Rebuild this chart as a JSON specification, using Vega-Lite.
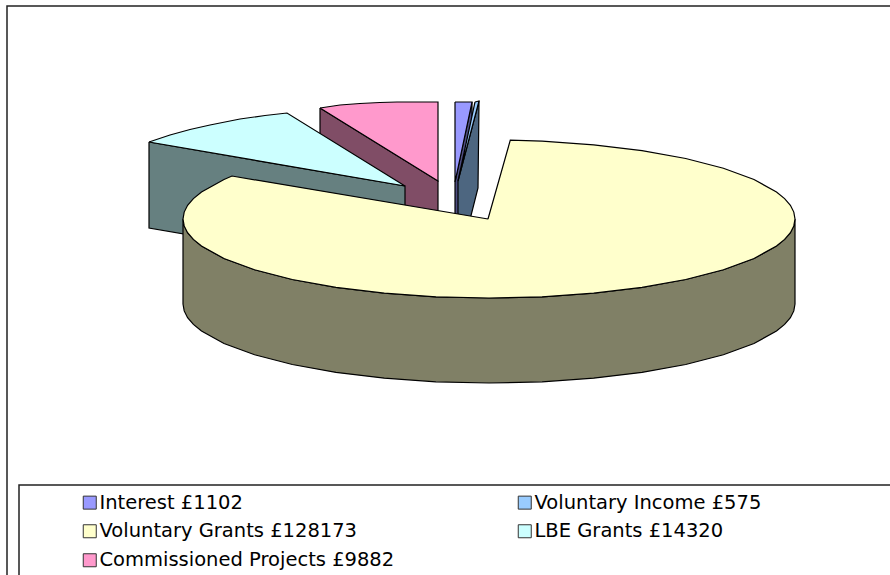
{"$schema":"https://vega.github.io/schema/vega-lite/v6.json","width":890,"height":575,"padding":0,"autosize":"none","background":"white","view":{"stroke":null},
"layer":[
{"data":{"values":[
{"part":"p1w","slice":"Commissioned Projects wall","x":320,"y":108},{"part":"p1w","slice":"Commissioned Projects wall","x":438,"y":181},{"part":"p1w","slice":"Commissioned Projects wall","x":438,"y":267},{"part":"p1w","slice":"Commissioned Projects wall","x":320,"y":194},{"part":"p1w","slice":"Commissioned Projects wall","x":320,"y":108},
{"part":"p2t","slice":"Commissioned Projects £9882","x":320,"y":108},{"part":"p2t","slice":"Commissioned Projects £9882","x":340,"y":105},{"part":"p2t","slice":"Commissioned Projects £9882","x":360,"y":103.5},{"part":"p2t","slice":"Commissioned Projects £9882","x":380,"y":102.5},{"part":"p2t","slice":"Commissioned Projects £9882","x":397,"y":102},{"part":"p2t","slice":"Commissioned Projects £9882","x":438,"y":102},{"part":"p2t","slice":"Commissioned Projects £9882","x":438,"y":181},{"part":"p2t","slice":"Commissioned Projects £9882","x":320,"y":108},
{"part":"p3w","slice":"LBE Grants wall","x":149,"y":142},{"part":"p3w","slice":"LBE Grants wall","x":405,"y":186},{"part":"p3w","slice":"LBE Grants wall","x":405,"y":272},{"part":"p3w","slice":"LBE Grants wall","x":149,"y":228},{"part":"p3w","slice":"LBE Grants wall","x":149,"y":142},
{"part":"p4t","slice":"LBE Grants £14320","x":149,"y":142},{"part":"p4t","slice":"LBE Grants £14320","x":170,"y":135},{"part":"p4t","slice":"LBE Grants £14320","x":190,"y":129.5},{"part":"p4t","slice":"LBE Grants £14320","x":210,"y":125},{"part":"p4t","slice":"LBE Grants £14320","x":240,"y":119},{"part":"p4t","slice":"LBE Grants £14320","x":265,"y":115.5},{"part":"p4t","slice":"LBE Grants £14320","x":287,"y":113},{"part":"p4t","slice":"LBE Grants £14320","x":405,"y":186},{"part":"p4t","slice":"LBE Grants £14320","x":149,"y":142},
{"part":"p5w","slice":"Interest wall","x":472,"y":102},{"part":"p5w","slice":"Interest wall","x":455,"y":182},{"part":"p5w","slice":"Interest wall","x":455,"y":268},{"part":"p5w","slice":"Interest wall","x":472,"y":188},{"part":"p5w","slice":"Interest wall","x":472,"y":102},
{"part":"p6t","slice":"Interest £1102","x":455,"y":102},{"part":"p6t","slice":"Interest £1102","x":472,"y":102},{"part":"p6t","slice":"Interest £1102","x":455,"y":182},{"part":"p6t","slice":"Interest £1102","x":455,"y":102},
{"part":"p7w","slice":"Voluntary Income wall","x":479,"y":101},{"part":"p7w","slice":"Voluntary Income wall","x":458,"y":181},{"part":"p7w","slice":"Voluntary Income wall","x":458,"y":267},{"part":"p7w","slice":"Voluntary Income wall","x":478,"y":188},{"part":"p7w","slice":"Voluntary Income wall","x":479,"y":101},
{"part":"p8t","slice":"Voluntary Income £575","x":475,"y":102},{"part":"p8t","slice":"Voluntary Income £575","x":479,"y":101},{"part":"p8t","slice":"Voluntary Income £575","x":458,"y":181},{"part":"p8t","slice":"Voluntary Income £575","x":475,"y":102},
{"part":"p9w","slice":"Voluntary Grants wall","x":795,"y":219},{"part":"p9w","slice":"Voluntary Grants wall","x":793.8,"y":225.9},{"part":"p9w","slice":"Voluntary Grants wall","x":790.4,"y":232.7},{"part":"p9w","slice":"Voluntary Grants wall","x":784.6,"y":239.4},{"part":"p9w","slice":"Voluntary Grants wall","x":776.5,"y":246},{"part":"p9w","slice":"Voluntary Grants wall","x":754,"y":258.5},{"part":"p9w","slice":"Voluntary Grants wall","x":723.4,"y":269.8},{"part":"p9w","slice":"Voluntary Grants wall","x":685.7,"y":279.5},{"part":"p9w","slice":"Voluntary Grants wall","x":642,"y":287.4},{"part":"p9w","slice":"Voluntary Grants wall","x":593.7,"y":293.2},{"part":"p9w","slice":"Voluntary Grants wall","x":542.1,"y":296.8},{"part":"p9w","slice":"Voluntary Grants wall","x":489,"y":298},{"part":"p9w","slice":"Voluntary Grants wall","x":435.9,"y":296.8},{"part":"p9w","slice":"Voluntary Grants wall","x":384.3,"y":293.2},{"part":"p9w","slice":"Voluntary Grants wall","x":336,"y":287.4},{"part":"p9w","slice":"Voluntary Grants wall","x":292.3,"y":279.5},{"part":"p9w","slice":"Voluntary Grants wall","x":254.6,"y":269.8},{"part":"p9w","slice":"Voluntary Grants wall","x":224,"y":258.5},{"part":"p9w","slice":"Voluntary Grants wall","x":201.5,"y":246},{"part":"p9w","slice":"Voluntary Grants wall","x":193.4,"y":239.4},{"part":"p9w","slice":"Voluntary Grants wall","x":187.6,"y":232.7},{"part":"p9w","slice":"Voluntary Grants wall","x":184.2,"y":225.9},{"part":"p9w","slice":"Voluntary Grants wall","x":183,"y":219},
{"part":"p9w","slice":"Voluntary Grants wall","x":183,"y":304},{"part":"p9w","slice":"Voluntary Grants wall","x":184.2,"y":310.9},{"part":"p9w","slice":"Voluntary Grants wall","x":187.6,"y":317.7},{"part":"p9w","slice":"Voluntary Grants wall","x":193.4,"y":324.4},{"part":"p9w","slice":"Voluntary Grants wall","x":201.5,"y":331},{"part":"p9w","slice":"Voluntary Grants wall","x":224,"y":343.5},{"part":"p9w","slice":"Voluntary Grants wall","x":254.6,"y":354.8},{"part":"p9w","slice":"Voluntary Grants wall","x":292.3,"y":364.5},{"part":"p9w","slice":"Voluntary Grants wall","x":336,"y":372.4},{"part":"p9w","slice":"Voluntary Grants wall","x":384.3,"y":378.2},{"part":"p9w","slice":"Voluntary Grants wall","x":435.9,"y":381.8},{"part":"p9w","slice":"Voluntary Grants wall","x":489,"y":383},{"part":"p9w","slice":"Voluntary Grants wall","x":542.1,"y":381.8},{"part":"p9w","slice":"Voluntary Grants wall","x":593.7,"y":378.2},{"part":"p9w","slice":"Voluntary Grants wall","x":642,"y":372.4},{"part":"p9w","slice":"Voluntary Grants wall","x":685.7,"y":364.5},{"part":"p9w","slice":"Voluntary Grants wall","x":723.4,"y":354.8},{"part":"p9w","slice":"Voluntary Grants wall","x":754,"y":343.5},{"part":"p9w","slice":"Voluntary Grants wall","x":776.5,"y":331},{"part":"p9w","slice":"Voluntary Grants wall","x":784.6,"y":324.4},{"part":"p9w","slice":"Voluntary Grants wall","x":790.4,"y":317.7},{"part":"p9w","slice":"Voluntary Grants wall","x":793.8,"y":310.9},{"part":"p9w","slice":"Voluntary Grants wall","x":795,"y":304},{"part":"p9w","slice":"Voluntary Grants wall","x":795,"y":219},
{"part":"q1t","slice":"Voluntary Grants £128173","x":488,"y":219},{"part":"q1t","slice":"Voluntary Grants £128173","x":510.3,"y":140.2},{"part":"q1t","slice":"Voluntary Grants £128173","x":542.1,"y":141.2},{"part":"q1t","slice":"Voluntary Grants £128173","x":593.7,"y":144.8},{"part":"q1t","slice":"Voluntary Grants £128173","x":642,"y":150.6},{"part":"q1t","slice":"Voluntary Grants £128173","x":685.7,"y":158.5},{"part":"q1t","slice":"Voluntary Grants £128173","x":723.4,"y":168.2},{"part":"q1t","slice":"Voluntary Grants £128173","x":754,"y":179.5},{"part":"q1t","slice":"Voluntary Grants £128173","x":776.5,"y":192},{"part":"q1t","slice":"Voluntary Grants £128173","x":784.6,"y":198.6},{"part":"q1t","slice":"Voluntary Grants £128173","x":790.4,"y":205.3},{"part":"q1t","slice":"Voluntary Grants £128173","x":793.8,"y":212.1},{"part":"q1t","slice":"Voluntary Grants £128173","x":795,"y":219},{"part":"q1t","slice":"Voluntary Grants £128173","x":793.8,"y":225.9},{"part":"q1t","slice":"Voluntary Grants £128173","x":790.4,"y":232.7},{"part":"q1t","slice":"Voluntary Grants £128173","x":784.6,"y":239.4},{"part":"q1t","slice":"Voluntary Grants £128173","x":776.5,"y":246},{"part":"q1t","slice":"Voluntary Grants £128173","x":754,"y":258.5},{"part":"q1t","slice":"Voluntary Grants £128173","x":723.4,"y":269.8},{"part":"q1t","slice":"Voluntary Grants £128173","x":685.7,"y":279.5},{"part":"q1t","slice":"Voluntary Grants £128173","x":642,"y":287.4},{"part":"q1t","slice":"Voluntary Grants £128173","x":593.7,"y":293.2},{"part":"q1t","slice":"Voluntary Grants £128173","x":542.1,"y":296.8},{"part":"q1t","slice":"Voluntary Grants £128173","x":489,"y":298},{"part":"q1t","slice":"Voluntary Grants £128173","x":435.9,"y":296.8},{"part":"q1t","slice":"Voluntary Grants £128173","x":384.3,"y":293.2},{"part":"q1t","slice":"Voluntary Grants £128173","x":336,"y":287.4},{"part":"q1t","slice":"Voluntary Grants £128173","x":292.3,"y":279.5},{"part":"q1t","slice":"Voluntary Grants £128173","x":254.6,"y":269.8},{"part":"q1t","slice":"Voluntary Grants £128173","x":224,"y":258.5},{"part":"q1t","slice":"Voluntary Grants £128173","x":201.5,"y":246},{"part":"q1t","slice":"Voluntary Grants £128173","x":193.4,"y":239.4},{"part":"q1t","slice":"Voluntary Grants £128173","x":187.6,"y":232.7},{"part":"q1t","slice":"Voluntary Grants £128173","x":184.2,"y":225.9},{"part":"q1t","slice":"Voluntary Grants £128173","x":183,"y":219},{"part":"q1t","slice":"Voluntary Grants £128173","x":184.2,"y":212.1},{"part":"q1t","slice":"Voluntary Grants £128173","x":187.6,"y":205.3},{"part":"q1t","slice":"Voluntary Grants £128173","x":193.4,"y":198.6},{"part":"q1t","slice":"Voluntary Grants £128173","x":201.5,"y":192},{"part":"q1t","slice":"Voluntary Grants £128173","x":224,"y":179.5},{"part":"q1t","slice":"Voluntary Grants £128173","x":232,"y":176},{"part":"q1t","slice":"Voluntary Grants £128173","x":488,"y":219}
]},
"mark":{"type":"line","stroke":"black","strokeWidth":1.2,"strokeJoin":"miter","clip":true},
"encoding":{
"x":{"field":"x","type":"quantitative","scale":{"domain":[0,890]},"axis":null},
"y":{"field":"y","type":"quantitative","scale":{"domain":[575,0]},"axis":null},
"detail":{"field":"part"},
"order":{"value":null},
"fill":{"field":"slice","type":"nominal","scale":{"domain":["Interest £1102","Voluntary Income £575","Voluntary Grants £128173","LBE Grants £14320","Commissioned Projects £9882","Interest wall","Voluntary Income wall","Voluntary Grants wall","LBE Grants wall","Commissioned Projects wall"],"range":["#9999FF","#99CCFF","#FFFFCC","#CCFFFF","#FF99CC","#4D4D80","#4D6680","#808066","#668080","#804D66"]},
"legend":{"values":["Interest £1102","Voluntary Grants £128173","Commissioned Projects £9882","Voluntary Income £575","LBE Grants £14320"],"title":null,"orient":"none","legendX":80,"legendY":492.5,"columns":2,"columnPadding":120,"rowPadding":8,"symbolType":"square","symbolSize":169,"symbolStrokeColor":"#333333","symbolStrokeWidth":1,"labelFont":"DejaVu Sans","labelFontSize":19.5,"labelColor":"#000000","labelOffset":0,"labelLimit":500}}
}},
{"data":{"values":[
{"part":"frame","x":890,"y":6},{"part":"frame","x":7,"y":6},{"part":"frame","x":7,"y":575},
{"part":"box","x":890,"y":485},{"part":"box","x":19,"y":485},{"part":"box","x":19,"y":575}
]},
"mark":{"type":"line","stroke":"#222222","strokeWidth":1.5},
"encoding":{"x":{"field":"x","type":"quantitative","scale":{"domain":[0,890]},"axis":null},"y":{"field":"y","type":"quantitative","scale":{"domain":[575,0]},"axis":null},"detail":{"field":"part"},"order":{"value":null}}}
]}
